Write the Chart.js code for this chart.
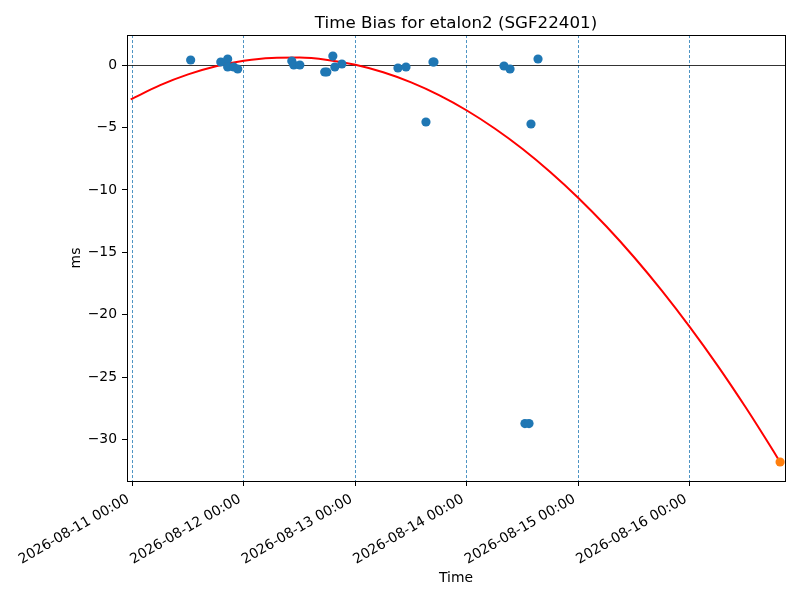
<!DOCTYPE html>
<html>
<head>
<meta charset="utf-8">
<script src="https://cdn.jsdelivr.net/npm/chart.js@4.4.1/dist/chart.umd.min.js"></script>
<style>
  html, body { margin: 0; padding: 0; background: #fff; }
  #wrap { width: 800px; height: 600px; }
</style>
</head>
<body>
<div id="wrap"><canvas id="c" width="800" height="600"></canvas></div>
<script>
// ---- Data (x in days since 2026-08-11 00:00, y in ms) ----
const observedDays = [0.523, 0.793, 0.855, 0.855, 0.909, 0.945, 1.430, 1.448, 1.502, 1.725, 1.744, 1.798, 1.816, 1.879,
                      2.382, 2.454, 2.696, 2.705, 2.633, 3.333, 3.387, 3.638, 3.575, 3.521, 3.557];
const observedBias = [0.40, 0.24, 0.48, -0.16, -0.16, -0.32, 0.32, 0.00, 0.00, -0.56, -0.56, 0.72, -0.16, 0.08,
                      -0.24, -0.16, 0.24, 0.24, -4.56, -0.08, -0.32, 0.48, -4.72, -28.7, -28.7];
const fitDays = [-0.015, 0.25, 0.5, 0.75, 1.0, 1.25, 1.5, 1.75, 2.0, 2.25, 2.5, 2.75, 3.0, 3.25, 3.5, 3.75,
                 4.0, 4.25, 4.5, 4.75, 5.0, 5.25, 5.5, 5.75, 5.809];
const fitBias = [-2.75, -1.61, -0.75, -0.10, 0.34, 0.57, 0.60, 0.41, 0.02, -0.58, -1.39, -2.41, -3.64, -5.08, -6.72, -8.58,
                 -10.64, -12.91, -15.39, -18.08, -20.98, -24.08, -27.40, -30.92, -31.78];
const predictedDays = [5.809];
const predictedBias = [-31.78];
const xTickValues = [0, 1, 2, 3, 4, 5];
const xTickLabels = ["2026-08-11 00:00", "2026-08-12 00:00", "2026-08-13 00:00", "2026-08-14 00:00", "2026-08-15 00:00", "2026-08-16 00:00"];
const yTickValues = [-30, -25, -20, -15, -10, -5, 0];

const FONT = "'DejaVu Sans', sans-serif";

const framePlugin = {
  id: 'frame',
  afterDraw(chart) {
    const a = chart.chartArea, ctx = chart.ctx;
    ctx.save();
    ctx.strokeStyle = '#000';
    ctx.lineWidth = 1;
    ctx.strokeRect(Math.round(a.left) + 0.5, Math.round(a.top) + 0.5, Math.round(a.right - a.left), Math.round(a.bottom - a.top));
    ctx.restore();
  }
};

new Chart(document.getElementById('c'), {
  type: 'scatter',
  data: {
    datasets: [
      {
        type: 'line',
        data: fitDays.map((d, i) => ({ x: d, y: fitBias[i] })),
        borderColor: '#ff0000',
        borderWidth: 2,
        pointRadius: 0,
        fill: false,
        cubicInterpolationMode: 'monotone',
        order: 3
      },
      {
        data: observedDays.map((d, i) => ({ x: d, y: observedBias[i] })),
        backgroundColor: '#1f77b4',
        borderWidth: 0,
        pointRadius: 4.6,
        order: 2
      },
      {
        data: predictedDays.map((d, i) => ({ x: d, y: predictedBias[i] })),
        backgroundColor: '#ff7f0e',
        borderWidth: 0,
        pointRadius: 4.6,
        order: 1
      }
    ]
  },
  options: {
    responsive: false,
    devicePixelRatio: 1,
    animation: false,
    layout: { padding: { left: 0, right: 15, top: 0, bottom: 0 } },
    plugins: {
      legend: { display: false },
      tooltip: { enabled: false },
      title: {
        display: true,
        fullSize: false,
        text: 'Time Bias for etalon2 (SGF22401)',
        color: '#000',
        font: { family: FONT, size: 16.7, weight: 'normal' },
        padding: { top: 14, bottom: 1 }
      }
    },
    scales: {
      x: {
        type: 'linear',
        min: -0.048,
        max: 5.853,
        afterBuildTicks: (s) => { s.ticks = xTickValues.map(v => ({ value: v })); },
        afterFit: (s) => { s.height = 119; },
        ticks: {
          autoSkip: false,
          minRotation: 30,
          maxRotation: 30,
          padding: 5,
          labelOffset: -4,
          color: '#000',
          font: { family: FONT, size: 13.9 },
          callback: (v) => { const i = xTickValues.indexOf(v); return i >= 0 ? xTickLabels[i] : ''; }
        },
        grid: {
          color: '#1f77b4',
          lineWidth: 0.8,
          tickColor: '#000',
          tickLength: 5,
          tickWidth: 1,
          tickBorderDash: []
        },
        border: { display: false, dash: [3, 2] },
        title: {
          display: true,
          text: 'Time',
          color: '#000',
          font: { family: FONT, size: 13.9 },
          padding: { top: 0, bottom: 13 }
        }
      },
      y: {
        type: 'linear',
        min: -33.30,
        max: 2.40,
        afterBuildTicks: (s) => { s.ticks = yTickValues.map(v => ({ value: v })); },
        afterFit: (s) => { s.width = 127; },
        ticks: {
          padding: 5,
          color: '#000',
          font: { family: FONT, size: 13.9 },
          callback: (v) => (v < 0 ? '\u2212' + Math.abs(v) : String(v))
        },
        grid: {
          color: (ctx) => (ctx.tick && ctx.tick.value === 0 ? '#000' : 'rgba(0,0,0,0)'),
          lineWidth: 0.8,
          tickColor: '#000',
          tickLength: 5,
          tickWidth: 1
        },
        border: { display: false },
        title: {
          display: true,
          text: 'ms',
          color: '#000',
          font: { family: FONT, size: 13.9 },
          padding: { top: 68, bottom: 0 }
        }
      }
    }
  },
  plugins: [framePlugin]
});
</script>
</body>
</html>
